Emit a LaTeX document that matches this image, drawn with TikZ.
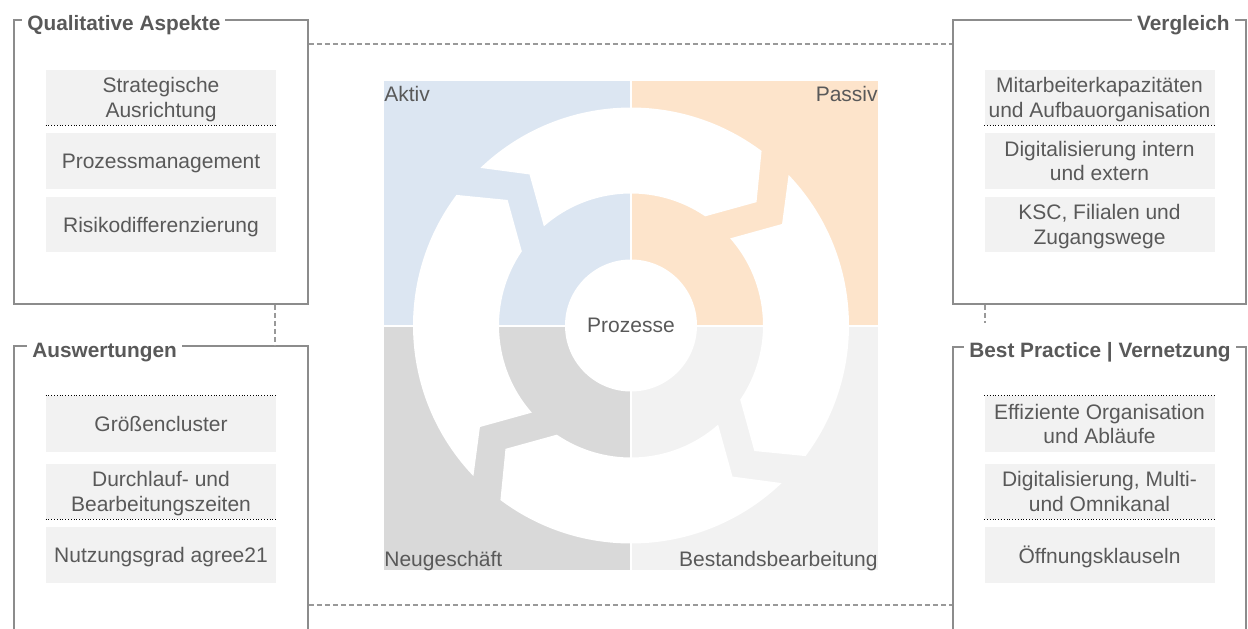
\documentclass[tikz,border=0pt]{standalone}
\usepackage{fontspec}
\setmainfont{Liberation Sans}
\usetikzlibrary{positioning}

\definecolor{txtgray}{HTML}{595959}
\definecolor{framegray}{HTML}{8C8C8C}
\definecolor{linkgray}{HTML}{999999}
\definecolor{itemgray}{HTML}{F2F2F2}
\definecolor{qblue}{HTML}{DCE6F2}
\definecolor{qpeach}{HTML}{FDE4CB}
\definecolor{qgray}{HTML}{D9D9D9}
\definecolor{qlight}{HTML}{F2F2F2}

\begin{document}
\begin{tikzpicture}[
    x=0.5pt,y=0.5pt,
    every node/.style={text=txtgray,font=\fontsize{10.5}{12.25}\selectfont},
    frame/.style={draw=framegray,line width=0.75pt,fill=none,inner sep=0pt},
    head/.style={fill=white,inner xsep=2.5pt,inner ysep=1pt,font=\fontsize{10.4}{12}\selectfont\bfseries},
    item/.style={fill=itemgray,minimum width=115pt,minimum height=27.75pt,inner sep=0pt,align=center,text depth=0pt},
    sepline/.style={black,line width=0.4pt,densely dotted},
    link/.style={linkgray,line width=0.75pt,dash pattern=on 2.5pt off 1.5pt},
    quad/.style={inner sep=0pt}
]
\useasboundingbox (0,0) rectangle (1248,628);
\clip (0,0) rectangle (1248,628);

% group frames
\node[frame,minimum width=147pt,minimum height=142pt] (qa) at (161,466) {};
\node[frame,minimum width=147pt,minimum height=151pt] (aw) at (161,131) {};
\node[frame,minimum width=146.5pt,minimum height=142pt] (vg) at (1099.5,466) {};
\node[frame,minimum width=146.5pt,minimum height=150.5pt] (bp) at (1099.5,130.5) {};

\node[head,anchor=base west] (qa-t) at (22,597) {Qualitative Aspekte};
\node[head,anchor=base west] (aw-t) at (27,271) {Auswertungen};
\node[head,anchor=base east] (vg-t) at (1235,597) {Vergleich};
\node[head,anchor=base west] (bp-t) at (964,271) {Best Practice | Vernetzung};

% connectors between the groups
\draw[link] ([yshift=-12.5pt]qa.north east) -- ([yshift=-12.5pt]vg.north west);
\draw[link] (aw.east |- 0,23) -- (bp.west |- 0,23);
\draw[link] (qa.south -| 275,0) -- (aw.north -| 275,0);
\draw[link] (vg.south -| 985,0) -- ++(0,-18);

% items
\node[item] (q1) at (161,530.5) {Strategische\\Ausrichtung};
\node[item] (q2) at (161,467) {Prozessmanagement};
\node[item] (q3) at (161,403.5) {Risikodifferenzierung};

\node[item] (a1) at (161,204) {Größencluster};
\node[item] (a2) at (161,136.5) {Durchlauf- und\\Bearbeitungszeiten};
\node[item] (a3) at (161,73) {Nutzungsgrad agree21};

\node[item] (v1) at (1099.5,530.5) {Mitarbeiterkapazitäten\\und Aufbauorganisation};
\node[item] (v2) at (1099.5,467) {Digitalisierung intern\\und extern};
\node[item] (v3) at (1099.5,403.5) {KSC, Filialen und\\Zugangswege};

\node[item] (b1) at (1099.5,204) {Effiziente Organisation\\und Abläufe};
\node[item] (b2) at (1099.5,136.5) {Digitalisierung, Multi-\\und Omnikanal};
\node[item] (b3) at (1099.5,73) {Öffnungsklauseln};

\draw[sepline] (q1.south west) -- (q1.south east);
\draw[sepline] (v1.south west) -- (v1.south east);
\draw[sepline] (a1.north west) -- (a1.north east);
\draw[sepline] (a2.south west) -- (a2.south east);
\draw[sepline] (b1.north west) -- (b1.north east);
\draw[sepline] (b2.south west) -- (b2.south east);

% quadrants
\fill[qblue]  (384,303.5) rectangle (630,547);
\fill[qpeach] (632,303.5) rectangle (878,547);
\fill[qgray]  (384,58) rectangle (630,301.5);
\fill[qlight] (632,58) rectangle (878,301.5);

% circular arrows
\begin{scope}[shift={(631,302.5)}]
\foreach \a in {0,90,180,270}
  \fill[white] ({133.7+\a}:218) arc[start angle=133.7+\a,end angle=53.2+\a,radius=218]
    -- ({44.5+\a}:176) -- ({55.8+\a}:132)
    arc[start angle=55.8+\a,end angle=131.3+\a,radius=132]
    -- ({123.9+\a}:182) -- cycle;
\end{scope}

\node[circle,fill=white,minimum size=66pt,inner sep=0pt] (proc) at (631,302.5) {Prozesse};

\node[quad,anchor=base west] (akt) at (384,526) {Aktiv};
\node[quad,anchor=base east] (pas) at (878,526) {Passiv};
\node[quad,anchor=base west] (neu) at (384,62) {Neugeschäft};
\node[quad,anchor=base east] (bst) at (878,62) {Bestandsbearbeitung};
\end{tikzpicture}
\end{document}
